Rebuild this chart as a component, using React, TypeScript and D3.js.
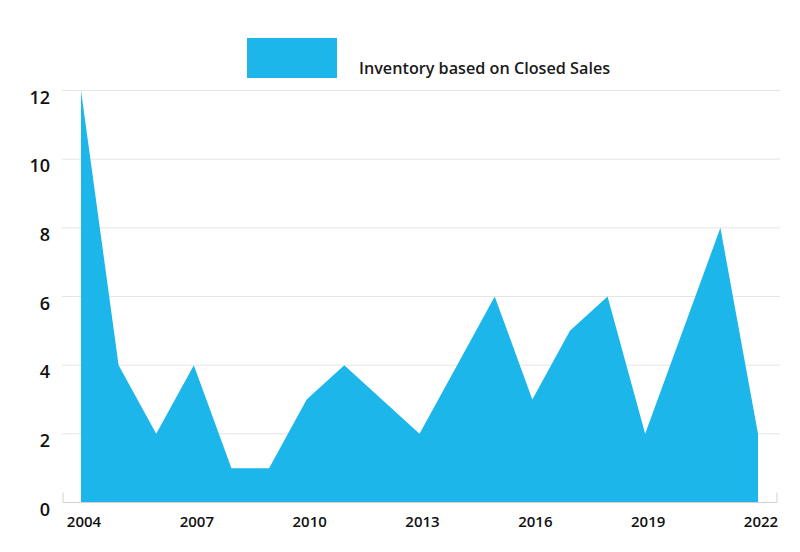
import React from 'react';
import * as d3 from 'd3';

const years = [2004, 2005, 2006, 2007, 2008, 2009, 2010, 2011, 2012, 2013, 2014, 2015, 2016, 2017, 2018, 2019, 2020, 2021, 2022];
const inventory = [12, 4, 2, 4, 1, 1, 3, 4, 3, 2, 4, 6, 3, 5, 6, 2, 5, 8, 2];
const yTicks = [0, 2, 4, 6, 8, 10, 12];
const xTicks = [2004, 2007, 2010, 2013, 2016, 2019, 2022];
const seriesName = 'Inventory based on Closed Sales';

const WIDTH = 800;
const HEIGHT = 552;
const COLOR = '#1db6ea';
const FONT = '"Open Sans", Lato, sans-serif';

const App: React.FC = () => {
  const x = d3.scaleLinear().domain([2004, 2022]).range([81, 758]);
  const y = d3.scaleLinear().domain([0, 12]).range([502.5, 90.5]);

  const points = years.map((yr, i) => ({ year: yr, value: inventory[i] }));
  const area = d3
    .area<{ year: number; value: number }>()
    .x((d) => x(d.year))
    .y0(y(0))
    .y1((d) => y(d.value));

  const gridLeft = 62;
  const gridRight = 780;

  return (
    <svg
      width={WIDTH}
      height={HEIGHT}
      style={{ position: 'absolute', left: 0, top: 0, background: '#fff' }}
    >
      {/* legend */}
      <rect x={247} y={38} width={90} height={40} fill={COLOR} />
      <text x={359} y={74} fontFamily={FONT} fontSize={16.2} fontWeight={600} fill="#1a1a1a">
        {seriesName}
      </text>

      {/* grid */}
      {yTicks
        .filter((t) => t > 0)
        .map((t) => (
          <line key={t} x1={gridLeft} x2={gridRight} y1={y(t)} y2={y(t)} stroke="#e5e5e5" strokeWidth={1} />
        ))}

      <path d={area(points) ?? ''} fill={COLOR} />

      {/* x axis */}
      <path
        d={`M${gridLeft + 1},${y(0) - 10}V${y(0)}H${gridRight - 3}V${y(0) - 10}`}
        fill="none"
        stroke="#d0d0d0"
        strokeWidth={1}
      />

      {yTicks.map((t) => (
        <text
          key={t}
          x={50}
          y={y(t) + 13}
          textAnchor="end"
          fontFamily={FONT}
          fontSize={18}
          fontWeight={600}
          fill="#111"
        >
          {t}
        </text>
      ))}

      {xTicks.map((t) => (
        <text
          key={t}
          x={x(t) + 3}
          y={527}
          textAnchor="middle"
          fontFamily={FONT}
          fontSize={15}
          fontWeight={600}
          fill="#111"
        >
          {t}
        </text>
      ))}
    </svg>
  );
};

export default App;
